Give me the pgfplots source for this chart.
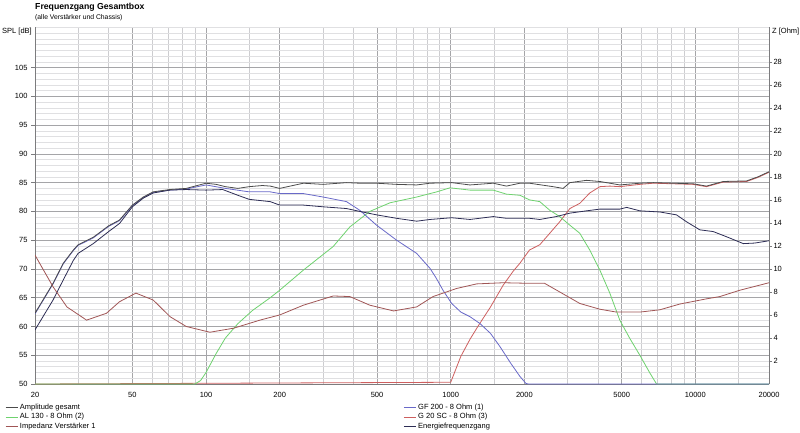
\documentclass[border=0pt]{standalone}
\usepackage{fontspec}
\setmainfont{Liberation Sans}
\usepackage{pgfplots}
\pgfplotsset{compat=1.18}
\usepackage{pgfplotstable}

\definecolor{cAmp}{RGB}{75,75,75}
\definecolor{cEnergy}{RGB}{45,45,85}
\definecolor{cGF}{RGB}{105,105,200}
\definecolor{cAL}{RGB}{110,210,110}
\definecolor{cTw}{RGB}{205,95,95}
\definecolor{cImp}{RGB}{160,85,85}
\definecolor{gridmaj}{RGB}{165,165,168}
\definecolor{gridminx}{RGB}{205,205,208}
\definecolor{gridminy}{RGB}{224,224,226}

% Amplitude gesamt
\pgfplotstableread{
f spl
20 62.3
23.7 67.5
26.1 71.0
28.7 73.3
30 74.2
34.6 75.5
40 77.5
44.3 78.5
50 81.1
55.4 82.5
60.8 83.4
71 83.8
83 84.0
100 84.9
110 84.7
120 84.3
135 84.0
150 84.3
170 84.5
183 84.4
200 84.0
250 84.9
301 84.7
375 85.0
425 84.9
498 84.9
601 84.7
726 84.6
823 84.9
1009 85.0
1199 84.6
1493 84.9
1690 84.4
1919 84.9
2100 84.9
2620 84.3
2880 84.0
3070 85.0
3590 85.4
4070 85.2
4910 84.6
5930 84.9
6730 85.0
8100 84.9
9790 84.8
11100 84.4
13000 85.2
16200 85.3
18000 86.0
20000 86.9
}\ampdata

% Energiefrequenzgang
\pgfplotstableread{
f spl
20 59.4
23.7 64.6
26.1 68.1
28.7 71.5
30 72.7
34.6 74.4
40 76.5
44.3 77.9
50 80.8
55.4 82.3
60.8 83.2
71 83.7
83 83.8
100 83.7
117 83.8
135 82.8
150 82.1
183 81.7
200 81.1
250 81.1
301 80.8
375 80.5
425 80.0
498 79.4
601 78.8
726 78.3
823 78.6
1009 78.9
1199 78.6
1493 79.1
1690 78.8
2100 78.8
2312 78.6
2700 79.1
3070 79.7
3590 80.1
4070 80.4
4910 80.4
5240 80.7
5930 80.1
7160 79.9
8370 79.4
9200 78.2
10420 76.8
11820 76.5
13400 75.6
15700 74.4
17500 74.5
20000 74.9
}\energydata

% GF 200 - 8 Ohm (1)
\pgfplotstableread{
f spl
20 62.2
23.7 67.4
26.1 70.9
28.7 73.2
30 74.1
34.6 75.4
40 77.4
44.3 78.4
50 81.0
55.4 82.4
60.8 83.3
71 83.7
83 83.9
100 84.6
120 84.0
150 83.4
183 83.4
200 83.1
250 83.1
301 82.5
375 81.7
425 80.2
498 77.6
601 75.0
726 72.7
823 70.1
870 68.5
930 66.3
1009 64.0
1100 62.5
1199 61.7
1318 60.5
1454 58.8
1590 56.5
1760 53.6
1920 51.3
2030 50.1
2080 50.0
20000 50.0
}\gfdata

% AL 130 - 8 Ohm (2)
\pgfplotstableread{
f spl
20 50.0
90 50.0
95 50.6
100 52.0
110 55.3
120 58.0
135 60.5
155 62.8
183 65.0
200 66.3
250 69.8
331 73.9
387 77.3
467 80.0
565 81.5
726 82.5
877 83.4
993 84.1
1199 83.7
1493 83.7
1690 83.0
1919 82.8
2100 82.0
2312 81.7
2540 80.2
2790 79.1
3070 77.6
3370 76.2
3700 73.3
4070 69.8
4470 65.8
4910 61.1
5400 57.9
5930 55.0
6520 51.9
6940 50.0
20000 50.0
}\aldata

% G 20 SC - 8 Ohm (3)
\pgfplotstableread{
f spl
20 50.0
1000 50.3
1100 54.8
1200 57.8
1300 60.2
1450 63.3
1640 67.2
1800 69.6
1919 71.0
2100 73.3
2312 74.2
2540 76.2
2790 78.2
3070 80.5
3370 81.4
3700 83.2
4070 84.3
4470 84.4
4910 84.3
5930 84.7
6730 84.9
8100 84.8
9790 84.7
11100 84.3
13000 85.1
16200 85.2
18000 85.9
20000 86.8
}\twdata

% Impedanz Verstaerker 1 (Ohm)
\pgfplotstableread{
f z
20 11.2
23.7 8.45
27 6.7
32.5 5.55
39.2 6.15
44.3 7.15
51.7 7.9
60.8 7.3
71.3 5.85
83 5.0
103.7 4.5
129.7 4.85
166 5.55
200 6.0
250 6.85
331 7.65
387 7.6
467 6.85
584 6.35
726 6.7
847 7.6
1056 8.3
1276 8.7
1640 8.8
2100 8.75
2420 8.75
2790 8.0
3370 7.0
4070 6.5
4760 6.25
5930 6.25
7160 6.45
8640 6.95
11100 7.4
12590 7.6
15200 8.15
20000 8.8
}\impdata

\begin{document}
\begin{tikzpicture}
\path[use as bounding box] (0,0) rectangle (800pt,432pt);
\pgfplotsset{
  every axis/.append style={
    at={(35pt,48pt)}, anchor=south west,
    scale only axis, width=734pt, height=356.7pt,
    xmode=log, xmin=20, xmax=20000,
    tick label style={font=\fontsize{7.5}{9}\selectfont},
    /pgf/number format/assume math mode=true,
    axis line style={draw=gridmaj!75!black, line width=0.6pt},
  },
}
\begin{axis}[
    ymin=50, ymax=112,
    axis x line*=bottom, axis y line*=left,
    xtick={20,50,100,200,500,1000,2000,5000,10000,20000},
    xticklabels={20,50,100,200,500,1000,2000,5000,10000,20000},
    minor xtick={30,40,60,70,80,90,150,300,400,600,700,800,900,1500,3000,4000,6000,7000,8000,9000,15000},
    ytick={50,55,...,105},
    minor ytick={51,52,...,112},
    grid=both,
    major x grid style={gridmaj, line width=0.5pt},
    minor x grid style={gridminx, line width=0.5pt},
    major y grid style={gridmaj, line width=0.5pt},
    minor y grid style={gridminy, line width=0.5pt},
    x tick style={draw=none},
    minor tick style={draw=none},
    y tick style={gridmaj!75!black, line width=0.5pt},
    tick align=outside, major tick length=4pt,
    xticklabel style={yshift=-1pt},
    legend style={at={(axis description cs:-0.0409,-0.05)}, anchor=north west,
      draw=none, fill=none, inner sep=0pt,
      font=\fontsize{7.5}{9}\selectfont,
      row sep=-1.5pt,
      /tikz/every even column/.append style={column sep=306pt}},
    legend columns=2,
    legend cell align=left,
    legend image code/.code={\draw[#1, line width=0.8pt] (0pt,0pt) -- (12pt,0pt);},
]
\addlegendimage{cAmp}\addlegendentry{Amplitude gesamt}
\addlegendimage{cGF}\addlegendentry{GF 200 - 8 Ohm (1)}
\addlegendimage{cAL}\addlegendentry{AL 130 - 8 Ohm (2)}
\addlegendimage{cTw}\addlegendentry{G 20 SC - 8 Ohm (3)}
\addlegendimage{cImp}\addlegendentry{Impedanz Verstärker 1}
\addlegendimage{cEnergy}\addlegendentry{Energiefrequenzgang}
\addplot[cTw, line width=0.8pt, forget plot] table[x=f, y=spl] {\twdata};
\addplot[cAL, line width=0.8pt, forget plot] table[x=f, y=spl] {\aldata};
\addplot[cGF, line width=0.8pt, forget plot] table[x=f, y=spl] {\gfdata};
\addplot[cEnergy, line width=0.8pt, forget plot] table[x=f, y=spl] {\energydata};
\addplot[cAmp, line width=0.8pt, forget plot] table[x=f, y=spl] {\ampdata};
\end{axis}
\begin{axis}[
    ymin=0, ymax=31,
    axis x line=none, axis y line*=right,
    ytick={2,4,...,28},
    tick align=outside, major tick length=3pt,
    y tick style={gridmaj!75!black, line width=0.5pt},
    yticklabel style={xshift=-2pt},
]
\addplot[cImp, line width=0.8pt] table[x=f, y=z] {\impdata};
\end{axis}
\node[anchor=base west, inner sep=0pt, font=\fontsize{8.7}{10}\selectfont\bfseries] at (35pt,422pt) {Frequenzgang Gesamtbox};
\node[anchor=base west, inner sep=0pt, font=\fontsize{6.8}{8}\selectfont] at (35pt,412.5pt) {(alle Verstärker und Chassis)};
\node[anchor=north east, inner sep=0pt, font=\fontsize{7.5}{9}\selectfont] at (32pt,404pt) {SPL [dB]};
\node[anchor=north west, inner sep=0pt, font=\fontsize{7.5}{9}\selectfont] at (772pt,404pt) {Z [Ohm]};
\end{tikzpicture}
\end{document}
